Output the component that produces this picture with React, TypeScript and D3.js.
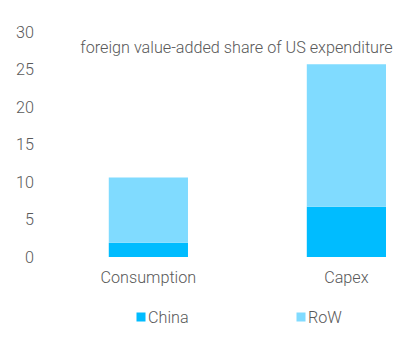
import React from "react";
import * as d3 from "d3";

const categories = ["Consumption", "Capex"];
const seriesNames = ["China", "RoW"];
const chinaValues = [1.9, 6.7];
const rowValues = [8.7, 19.0];
const yTicks = [0, 5, 10, 15, 20, 25, 30];
const title = "foreign value-added share of US expenditure";
const colors = ["#00BCFF", "#80DBFF"];

const W = 418;
const H = 346;

export default function App() {
  const y = d3.scaleLinear().domain([0, 30]).range([257, 32]);
  const x = d3
    .scaleBand<string>()
    .domain(categories)
    .range([50, 410])
    .paddingInner(0.6)
    .paddingOuter(0.209)
    .align(0.71);

  const rows = categories.map((c, i) => ({ cat: c, China: chinaValues[i], RoW: rowValues[i] }));
  const stack = d3.stack<any>().keys(seriesNames)(rows);

  const font = "Roboto, 'Open Sans', sans-serif";
  const textColor = "#595959";
  const fs = 16.2;

  const legendX = [136.5, 296.5];

  return (
    <svg width={W} height={H} style={{ position: "absolute", left: 0, top: 0, background: "#fff" }}>
      <rect width={W} height={H} fill="#fff" />
      {yTicks.map((t) => (
        <text
          key={t}
          x={34}
          y={y(t)}
          dy="0.35em"
          textAnchor="end"
          fontFamily={font}
          fontWeight={300}
          fontSize={fs}
          fill={textColor}
        >
          {t}
        </text>
      ))}
      {stack.map((s, si) =>
        s.map((d, i) => (
          <rect
            key={si + "-" + i}
            x={x(categories[i])}
            width={x.bandwidth()}
            y={y(d[1])}
            height={y(d[0]) - y(d[1])}
            fill={colors[si]}
          />
        ))
      )}
      <text
        x={236.5}
        y={47}
        dy="0.35em"
        textAnchor="middle"
        fontFamily={font}
        fontWeight={300}
        fontSize={16.2}
        fill={textColor}
      >
        {title}
      </text>
      {categories.map((c) => (
        <text
          key={c}
          x={(x(c) as number) + x.bandwidth() / 2}
          y={277}
          dy="0.35em"
          textAnchor="middle"
          fontFamily={font}
          fontWeight={300}
          fontSize={fs}
          fill={textColor}
        >
          {c}
        </text>
      ))}
      {seriesNames.map((s, i) => (
        <g key={s}>
          <rect x={legendX[i]} y={312.5} width={9} height={9} fill={colors[i]} />
          <text
            x={legendX[i] + 11.5}
            y={317}
            dy="0.35em"
            fontFamily={font}
            fontWeight={300}
            fontSize={fs}
            fill={textColor}
          >
            {s}
          </text>
        </g>
      ))}
    </svg>
  );
}
